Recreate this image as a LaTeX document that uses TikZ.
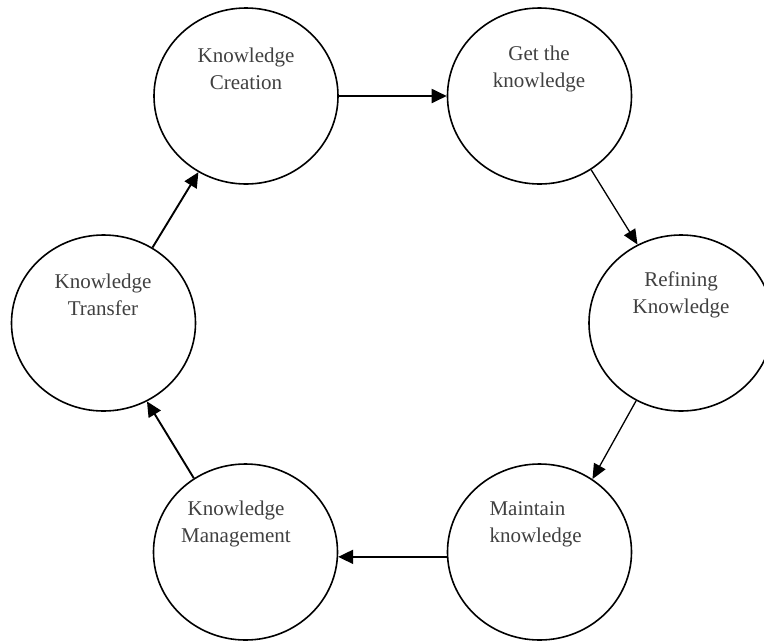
\documentclass[tikz,border=0pt]{standalone}
\usepackage{fontspec}
\setmainfont{Liberation Serif}
\usetikzlibrary{shapes.geometric,arrows.meta}
\definecolor{txtgray}{HTML}{404040}
\begin{document}
\begin{tikzpicture}[x=1pt,y=-1pt,
  stage/.style={draw=black,line width=1.6pt,ellipse,minimum width=184pt,minimum height=176pt,inner sep=0pt},
  txt/.style={text=txtgray,font=\fontsize{21}{27.3}\selectfont,inner sep=0pt},
  thick arrow/.style={line width=1.9pt,-{Triangle[length=15pt,width=14pt]}},
  thin arrow/.style={line width=1.3pt,-{Triangle[length=15pt,width=13pt]}}]
\useasboundingbox (0,0) rectangle (764,641);
\node[stage] (c1) at (246,96) {};
\node[stage] (c2) at (539.5,96) {};
\node[stage] (c3) at (681,323) {};
\node[stage] (c4) at (539.5,552) {};
\node[stage] (c5) at (245.5,552) {};
\node[stage] (c6) at (103.5,323) {};
\node[txt,align=center] (t1) at (246,69) {Knowledge\\Creation};
\node[txt,align=center] (t2) at (539,69) {Get the\\knowledge};
\node[txt,align=center] (t3) at (681,295) {Refining\\Knowledge};
\node[txt,align=left] (t4) at (535.6,524) {Maintain\\knowledge};
\node[txt,align=center] (t5) at (236,524) {Knowledge\\Management};
\node[txt,align=center] (t6) at (103,295) {Knowledge\\Transfer};
\draw[thick arrow] (c1.east) -- (c2.west);
\draw[thin arrow] (c2.-55.7) -- (c3.119.4);
\draw[thin arrow] (c3.240.8) -- (c4.54.1);
\draw[thick arrow] (c4.183.5) -- (c5.-3.5);
\draw[thick arrow] (c5.125.2) -- (c6.-61.7);
\draw[thick arrow] (c6.57.5) -- (c1.238);
\end{tikzpicture}
\end{document}
